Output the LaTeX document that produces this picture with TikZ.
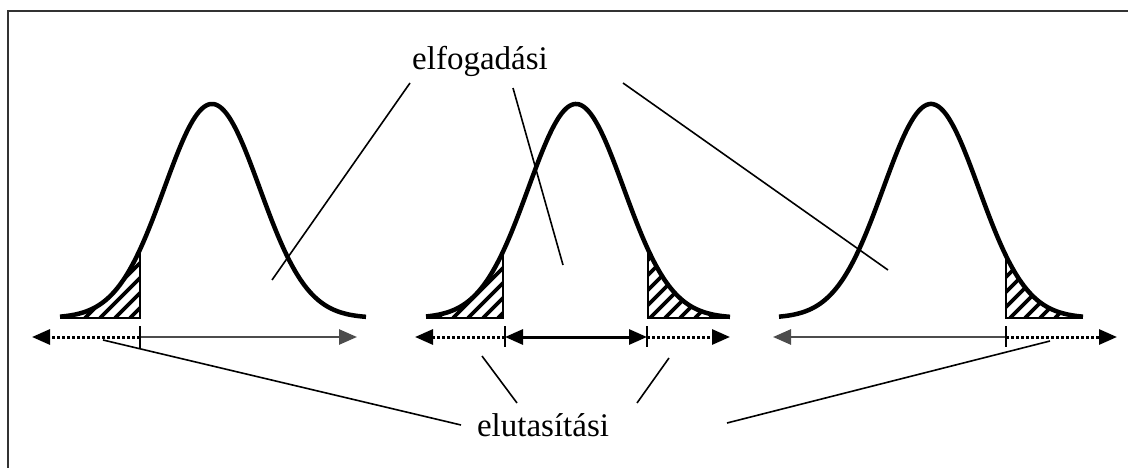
\documentclass[tikz,border=0pt]{standalone}
\usepackage{fontspec}
\setmainfont{Liberation Serif}
\usetikzlibrary{arrows.meta}
\begin{document}
\begin{tikzpicture}[x=1pt,y=-1pt,
  curve/.style={line width=4.5pt,line join=round},
  hatchline/.style={line width=3.6pt},
  tailedge/.style={line width=2.8pt},
  dotline/.style={line width=3pt,dash pattern=on 3pt off 2pt},
  solidline/.style={line width=2.6pt,black!70},
  midline/.style={line width=3pt},
  tip/.style={-{Triangle[length=18pt,width=15pt]}},
  tick/.style={line width=1.8pt},
  leader/.style={line width=1.6pt},
  lbl/.style={font=\fontsize{33}{38}\selectfont,inner sep=0pt,anchor=base}
]
\useasboundingbox (0,0) rectangle (1128,468);
% frame
\draw[line width=2.4pt,black!80] (8,468) -- (8,11) -- (1128,11);

\def\sig{47.7}
\def\base{318}
\def\H{214}
% ---------- curve 1 ----------
\def\mu{212}
\begin{scope}
  \clip plot[domain=60:140,samples=60] (\x,{\base-\H*exp(-0.5*((\x-\mu)/\sig)^2)}) -- (140,\base) -- cycle;
  \foreach \k in {40,55,...,160} \draw[hatchline] (\k,\base) -- ++(90,-90);
\end{scope}
\draw[tailedge] (60,\base) -- (140,\base) -- (140,{\base-\H*exp(-0.5*((140-\mu)/\sig)^2)});
\draw[curve] plot[domain=60:366,samples=160] (\x,{\base-\H*exp(-0.5*((\x-\mu)/\sig)^2)});
% ---------- curve 2 ----------
\def\mu{576}
\begin{scope}
  \clip plot[domain=426:503,samples=60] (\x,{\base-\H*exp(-0.5*((\x-\mu)/\sig)^2)}) -- (503,\base) -- cycle;
  \foreach \k in {408,423,...,520} \draw[hatchline] (\k,\base) -- ++(90,-90);
\end{scope}
\begin{scope}
  \clip plot[domain=648:730,samples=60] (\x,{\base-\H*exp(-0.5*((\x-\mu)/\sig)^2)}) -- (730,\base) -- (648,\base) -- cycle;
  \foreach \k in {560,575,...,740} \draw[hatchline] (\k,\base) -- ++(90,-90);
\end{scope}
\draw[tailedge] (426,\base) -- (503,\base) -- (503,{\base-\H*exp(-0.5*((503-\mu)/\sig)^2)});
\draw[tailedge] (730,\base) -- (648,\base) -- (648,{\base-\H*exp(-0.5*((648-\mu)/\sig)^2)});
\draw[curve] plot[domain=426:730,samples=160] (\x,{\base-\H*exp(-0.5*((\x-\mu)/\sig)^2)});
% ---------- curve 3 ----------
\def\mu{931}
\begin{scope}
  \clip plot[domain=1006:1083,samples=60] (\x,{\base-\H*exp(-0.5*((\x-\mu)/\sig)^2)}) -- (1083,\base) -- (1006,\base) -- cycle;
  \foreach \k in {920,935,...,1090} \draw[hatchline] (\k,\base) -- ++(90,-90);
\end{scope}
\draw[tailedge] (1083,\base) -- (1006,\base) -- (1006,{\base-\H*exp(-0.5*((1006-\mu)/\sig)^2)});
\draw[curve] plot[domain=779:1083,samples=160] (\x,{\base-\H*exp(-0.5*((\x-\mu)/\sig)^2)});

% ---------- axis arrows ----------
\coordinate (a1l) at (32,337);
\coordinate (a1m) at (140,337);
\coordinate (a1r) at (357,337);
\draw[dotline,tip] (a1m) -- (a1l);
\draw[solidline,tip] (a1m) -- (a1r);
\draw[tick] (140,326) -- (140,348);

\coordinate (a2l) at (415,337);
\coordinate (a2m1) at (505,337);
\coordinate (a2m2) at (647,337);
\coordinate (a2r) at (730,337);
\draw[dotline,tip] (a2m1) -- (a2l);
\draw[midline,{Triangle[length=18pt,width=15pt]}-{Triangle[length=18pt,width=15pt]}] (a2m1) -- (a2m2);
\draw[dotline,tip] (a2m2) -- (a2r);
\draw[tick] (505,326) -- (505,347);
\draw[tick] (647,326) -- (647,347);

\coordinate (a3l) at (773,337);
\coordinate (a3m) at (1006,337);
\coordinate (a3r) at (1117,337);
\draw[solidline,tip] (a3m) -- (a3l);
\draw[dotline,tip] (a3m) -- (a3r);
\draw[tick] (1006,326) -- (1006,347);

% ---------- labels ----------
\node[lbl] (elf) at (480,70) {elfogadási};
\node[lbl] (elu) at (543,436) {elutasítási};

% leader lines (acceptance)
\coordinate (e1s) at (410,83);  \coordinate (e1e) at (272,280);
\coordinate (e2s) at (513,88);  \coordinate (e2e) at (563,265);
\coordinate (e3s) at (623,83);  \coordinate (e3e) at (888,270);
\draw[leader] (e1s) -- (e1e);
\draw[leader] (e2s) -- (e2e);
\draw[leader] (e3s) -- (e3e);
% leader lines (rejection)
\coordinate (r1s) at (103,340); \coordinate (r1e) at (461,425);
\coordinate (r2s) at (482,356); \coordinate (r2e) at (517,403);
\coordinate (r3s) at (669,358); \coordinate (r3e) at (637,403);
\coordinate (r4s) at (1050,341); \coordinate (r4e) at (727,423);
\draw[leader] (r1s) -- (r1e);
\draw[leader] (r2s) -- (r2e);
\draw[leader] (r3s) -- (r3e);
\draw[leader] (r4s) -- (r4e);
\end{tikzpicture}
\end{document}
